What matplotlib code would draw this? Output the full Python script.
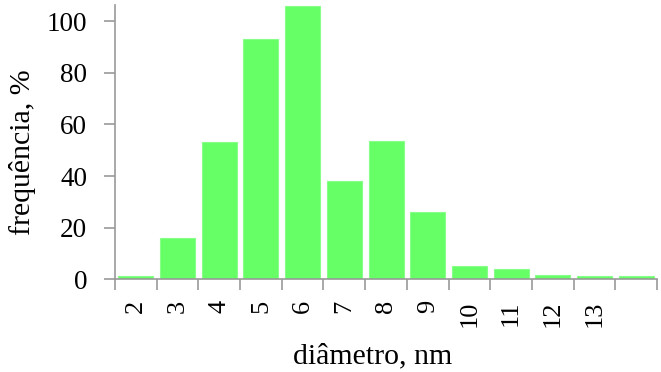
import matplotlib.pyplot as plt
import numpy as np

# diameter classes (nm) and frequency of each class
diametros = ['2', '3', '4', '5', '6', '7', '8', '9', '10', '11', '12', '13', '']
frequencia = [1.2, 16, 53, 93, 106, 38, 53.5, 26, 5, 4.1, 1.8, 1.2, 1.2]

plt.rcParams['font.family'] = ['Liberation Serif', 'DejaVu Serif']

fig = plt.figure(figsize=(6.61, 3.72), dpi=100)
ax = fig.add_axes([0.174, 0.249, 0.82, 0.738])

x = np.arange(len(frequencia))
ax.bar(x, frequencia, width=0.84, color='#66ff66', edgecolor='#88ff88', linewidth=0.8)

ax.set_xlim(-0.5, len(frequencia) - 0.5)
ax.set_ylim(0, 106.3)

# labels centred on the bars, tick marks between categories
ax.set_xticks(x)
ax.set_xticklabels(diametros, rotation=90, fontsize=19)
ax.set_xticks(np.arange(-0.5, len(frequencia)), minor=True)
ax.tick_params(axis='x', which='major', length=0, pad=15)
ax.tick_params(axis='x', which='minor', length=8, width=1.2, color='#999999')

ax.set_yticks([0, 20, 40, 60, 80, 100])
ax.tick_params(axis='y', length=8, width=1.2, color='#999999', labelsize=19.5, pad=12)

for side in ['top', 'right']:
    ax.spines[side].set_visible(False)
for side in ['left', 'bottom']:
    ax.spines[side].set_color('#999999')
    ax.spines[side].set_linewidth(1.2)

# axis titles
fig.text(0.563, 0.024, 'diâmetro, nm', fontsize=21.5, ha='center', va='baseline')
fig.text(0.034, 0.59, 'frequência, %', fontsize=21.5, rotation=90, ha='center', va='center')

fig.savefig('out.png', dpi=100)
